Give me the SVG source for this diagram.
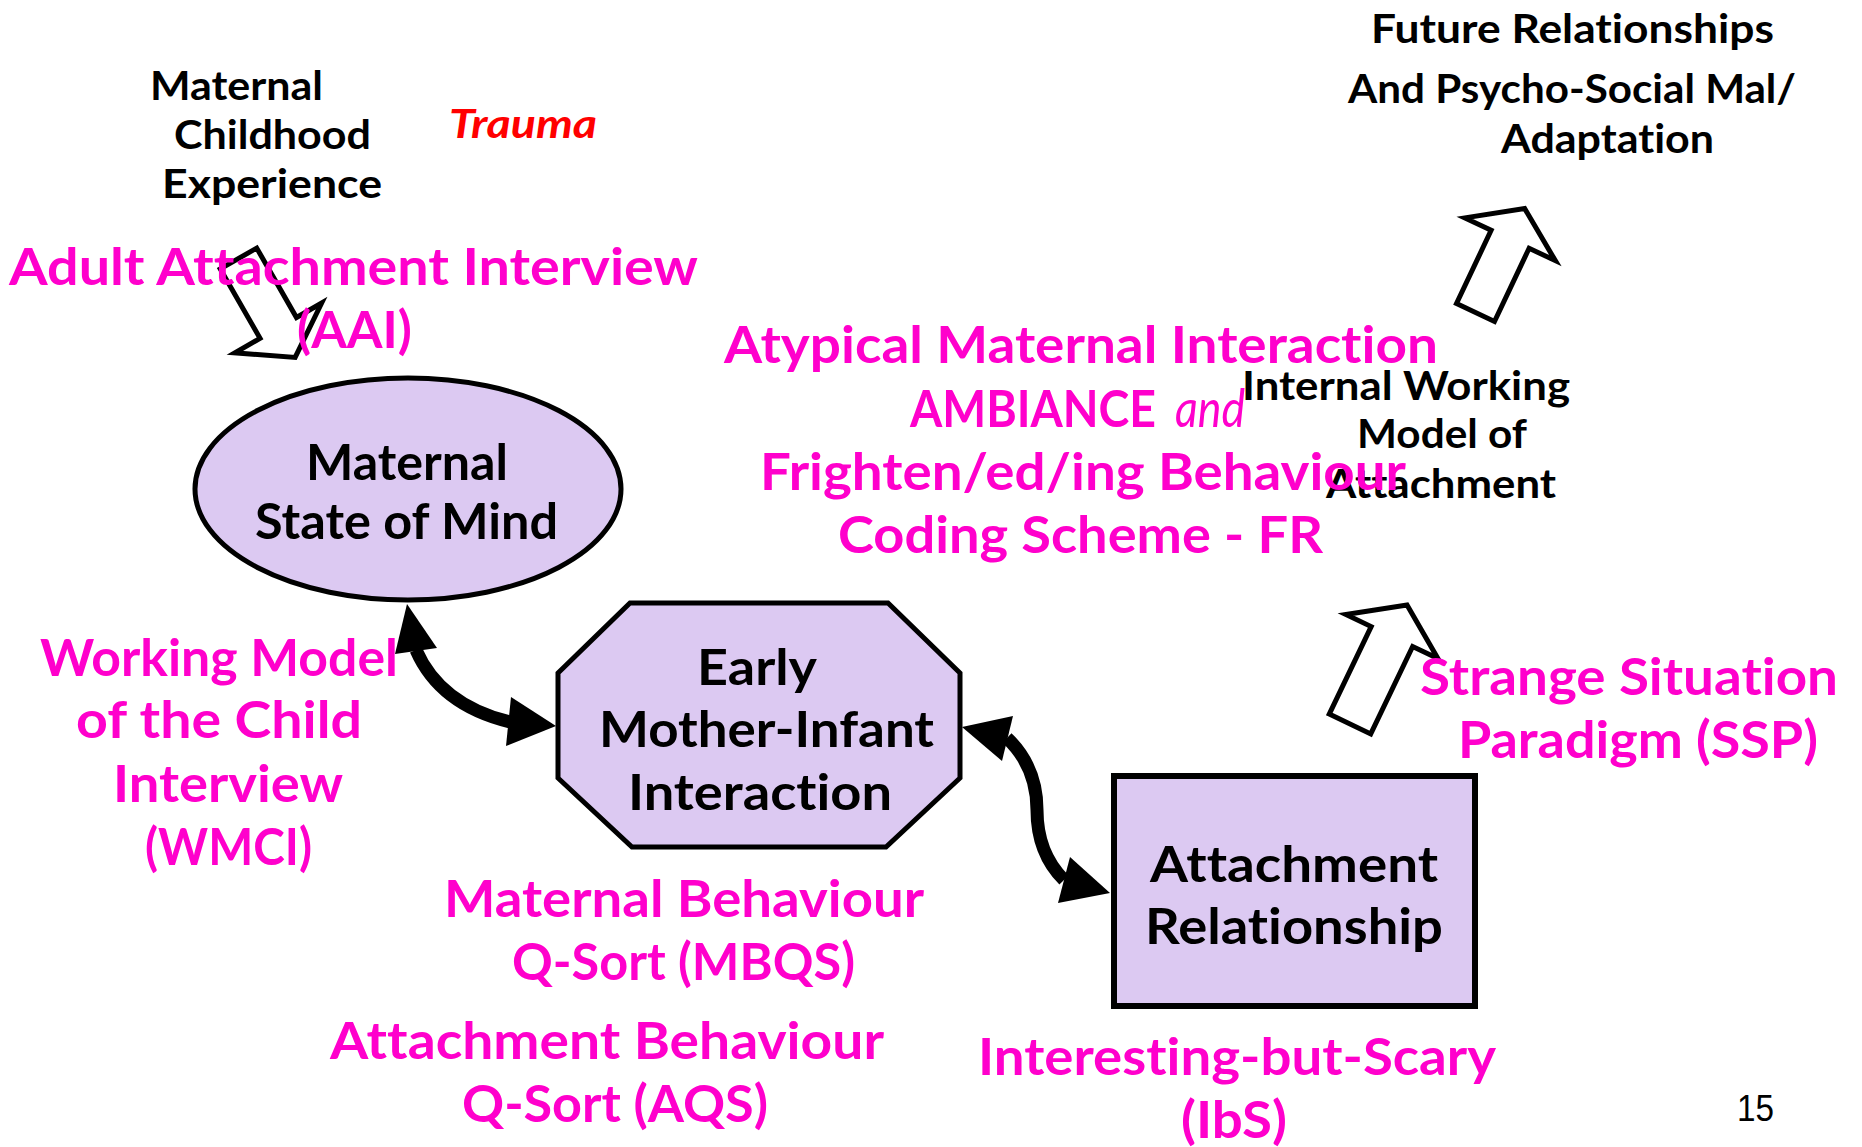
<svg xmlns="http://www.w3.org/2000/svg" width="1862" height="1147" viewBox="0 0 1862 1147">
<style>
.node{fill:#DCC9F2;stroke:#000;stroke-width:5}
.shaft{fill:none;stroke:#000;stroke-width:13}
.head{fill:#000;stroke:none}
.block{fill:#fff;stroke:#000;stroke-width:5;stroke-linejoin:miter}
text{font-family:Lato,"Liberation Sans",sans-serif;font-weight:700;font-variant-ligatures:none;font-feature-settings:"liga" 0,"clig" 0}
.blk{font-size:40px;fill:#000}
.ntx{font-size:50px;fill:#000}
.mag{font-size:52px;fill:#FF00CC}
.it{font-style:italic;font-weight:400}
</style>
<rect width="1862" height="1147" fill="#fff"/>
<g id="connectors">
  <g id="arrow-aai">
    <polygon class="block" transform="translate(238.5,258.5) rotate(150.2)" points="-21,0 21,0 21,-80 50,-80 0,-114 -50,-80 -21,-80"/>
  </g>
  <g id="arrow-future">
    <polygon class="block" transform="translate(1475.5,312.5) rotate(25.3)" points="-21,0 21,0 21,-81 50,-81 0,-115 -50,-81 -21,-81"/>
  </g>
  <g id="arrow-iwm">
    <polygon class="block" transform="translate(1350,724) rotate(25.6)" points="-23,0 23,0 23,-97 51,-97 0,-132 -51,-97 -23,-97"/>
  </g>
  <g id="mind-interaction">
    <path class="shaft" d="M 416 650 Q 440 705 510 722"/>
    <polygon class="head" points="407,604 437,648 395,654"/>
    <polygon class="head" points="556,726 511,697 506,746"/>
  </g>
  <g id="interaction-attachment">
    <path class="shaft" d="M 1007 738 C 1030 760 1037 785 1037 810 C 1037 840 1046 862 1064 880"/>
    <polygon class="head" points="962,727 1013,716 1002,761"/>
    <polygon class="head" points="1110,893 1070,857 1058,903"/>
  </g>
</g>
<g id="node-mind">
  <ellipse class="node" cx="408" cy="489" rx="213" ry="111"/>
  <text class="ntx" x="306" y="480" textLength="202" lengthAdjust="spacingAndGlyphs">Maternal</text>
  <text class="ntx" x="255" y="539" textLength="303" lengthAdjust="spacingAndGlyphs">State of Mind</text>
</g>
<g id="node-interaction">
  <polygon class="node" points="630,603 888,603 960,673 960,778 886,847 632,847 558,778 558,673"/>
  <text class="ntx" x="697" y="685" textLength="120" lengthAdjust="spacingAndGlyphs">Early</text>
  <text class="ntx" x="599" y="747" textLength="335" lengthAdjust="spacingAndGlyphs">Mother-Infant</text>
  <text class="ntx" x="628" y="810" textLength="264" lengthAdjust="spacingAndGlyphs">Interaction</text>
</g>
<g id="node-attachment">
  <rect class="node" x="1114" y="776" width="361" height="230" style="stroke-width:6"/>
  <text class="ntx" x="1150" y="882" textLength="288" lengthAdjust="spacingAndGlyphs">Attachment</text>
  <text class="ntx" x="1145" y="944" textLength="298" lengthAdjust="spacingAndGlyphs">Relationship</text>
</g>
<g id="label-childhood">
  <text class="blk" x="150" y="100" textLength="173" lengthAdjust="spacingAndGlyphs">Maternal</text>
  <text class="blk" x="174" y="149" textLength="197" lengthAdjust="spacingAndGlyphs">Childhood</text>
  <text class="blk" x="162" y="198" textLength="220" lengthAdjust="spacingAndGlyphs">Experience</text>
</g>
<g id="label-trauma">
  <text class="blk" x="449" y="138" textLength="148" lengthAdjust="spacingAndGlyphs" style="fill:#FF0000;font-style:italic">Trauma</text>
</g>
<g id="label-future">
  <text class="blk" x="1371" y="43" textLength="403" lengthAdjust="spacingAndGlyphs">Future Relationships</text>
  <text class="blk" x="1348" y="103" textLength="448" lengthAdjust="spacingAndGlyphs">And Psycho-Social Mal/</text>
  <text class="blk" x="1501" y="153" textLength="213" lengthAdjust="spacingAndGlyphs">Adaptation</text>
</g>
<g id="label-iwm">
  <text class="blk" x="1242" y="400" textLength="328" lengthAdjust="spacingAndGlyphs">Internal Working</text>
  <text class="blk" x="1357" y="448" textLength="170" lengthAdjust="spacingAndGlyphs">Model of</text>
  <text class="blk" x="1326" y="498" textLength="230" lengthAdjust="spacingAndGlyphs">Attachment</text>
</g>
<g id="label-aai">
  <text class="mag" x="9" y="285" textLength="689" lengthAdjust="spacingAndGlyphs">Adult Attachment Interview</text>
  <text class="mag" x="297" y="348" textLength="115" lengthAdjust="spacingAndGlyphs">(AAI)</text>
</g>
<g id="label-ambiance">
  <text class="mag" x="724" y="363" textLength="714" lengthAdjust="spacingAndGlyphs">Atypical Maternal Interaction</text>
  <text class="mag" x="910" y="427" textLength="246" lengthAdjust="spacingAndGlyphs">AMBIANCE</text>
  <text class="mag it" x="1175" y="427" textLength="70" lengthAdjust="spacingAndGlyphs">and</text>
  <text class="mag" x="760" y="490" textLength="646" lengthAdjust="spacingAndGlyphs">Frighten/ed/ing Behaviour</text>
  <text class="mag" x="838" y="553" textLength="485" lengthAdjust="spacingAndGlyphs">Coding Scheme - FR</text>
</g>
<g id="label-wmci">
  <text class="mag" x="40" y="676" textLength="358" lengthAdjust="spacingAndGlyphs">Working Model</text>
  <text class="mag" x="76" y="738" textLength="286" lengthAdjust="spacingAndGlyphs">of the Child</text>
  <text class="mag" x="113" y="802" textLength="230" lengthAdjust="spacingAndGlyphs">Interview</text>
  <text class="mag" x="145" y="865" textLength="167" lengthAdjust="spacingAndGlyphs">(WMCI)</text>
</g>
<g id="label-qsort">
  <text class="mag" x="444" y="917" textLength="480" lengthAdjust="spacingAndGlyphs">Maternal Behaviour</text>
  <text class="mag" x="512" y="980" textLength="343" lengthAdjust="spacingAndGlyphs">Q-Sort (MBQS)</text>
  <text class="mag" x="330" y="1059" textLength="554" lengthAdjust="spacingAndGlyphs">Attachment Behaviour</text>
  <text class="mag" x="462" y="1122" textLength="306" lengthAdjust="spacingAndGlyphs">Q-Sort (AQS)</text>
</g>
<g id="label-ssp">
  <text class="mag" x="1420" y="695" textLength="418" lengthAdjust="spacingAndGlyphs">Strange Situation</text>
  <text class="mag" x="1458" y="758" textLength="360" lengthAdjust="spacingAndGlyphs">Paradigm (SSP)</text>
</g>
<g id="label-ibs">
  <text class="mag" x="978" y="1075" textLength="518" lengthAdjust="spacingAndGlyphs">Interesting-but-Scary</text>
  <text class="mag" x="1181" y="1138" textLength="106" lengthAdjust="spacingAndGlyphs">(IbS)</text>
</g>
<g id="page-number">
  <text x="1737" y="1121" textLength="37" lengthAdjust="spacingAndGlyphs" style="font-family:'Liberation Sans',Arial,sans-serif;font-weight:400;font-size:36px;fill:#000">15</text>
</g>
</svg>
